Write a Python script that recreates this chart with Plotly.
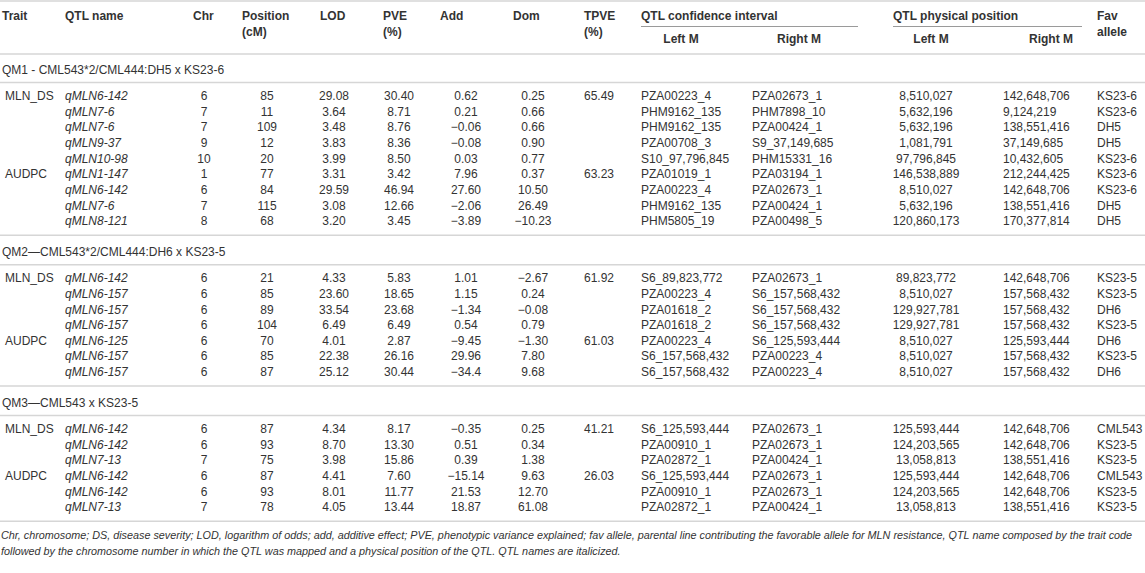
import plotly.graph_objects as go

# ---------------- table data ----------------
section_titles = [
    "QM1 - CML543*2/CML444:DH5 x KS23-6",
    "QM2\u2014CML543*2/CML444:DH6 x KS23-5",
    "QM3\u2014CML543 x KS23-5",
]
section_rows = [9, 7, 6]

trait = ["MLN_DS", "", "", "", "", "AUDPC", "", "", "",
         "MLN_DS", "", "", "", "AUDPC", "", "",
         "MLN_DS", "", "", "AUDPC", "", ""]
qtl_name = ["qMLN6-142", "qMLN7-6", "qMLN7-6", "qMLN9-37", "qMLN10-98",
            "qMLN1-147", "qMLN6-142", "qMLN7-6", "qMLN8-121",
            "qMLN6-142", "qMLN6-157", "qMLN6-157", "qMLN6-157",
            "qMLN6-125", "qMLN6-157", "qMLN6-157",
            "qMLN6-142", "qMLN6-142", "qMLN7-13",
            "qMLN6-142", "qMLN6-142", "qMLN7-13"]
chrom = [6, 7, 7, 9, 10, 1, 6, 7, 8,
         6, 6, 6, 6, 6, 6, 6,
         6, 6, 7, 6, 6, 7]
position_cm = [85, 11, 109, 12, 20, 77, 84, 115, 68,
               21, 85, 89, 104, 70, 85, 87,
               87, 93, 75, 87, 93, 78]
lod = ["29.08", "3.64", "3.48", "3.83", "3.99", "3.31", "29.59", "3.08", "3.20",
       "4.33", "23.60", "33.54", "6.49", "4.01", "22.38", "25.12",
       "4.34", "8.70", "3.98", "4.41", "8.01", "4.05"]
pve = ["30.40", "8.71", "8.76", "8.36", "8.50", "3.42", "46.94", "12.66", "3.45",
       "5.83", "18.65", "23.68", "6.49", "2.87", "26.16", "30.44",
       "8.17", "13.30", "15.86", "7.60", "11.77", "13.44"]
add = ["0.62", "0.21", "\u22120.06", "\u22120.08", "0.03", "7.96", "27.60", "\u22122.06", "\u22123.89",
       "1.01", "1.15", "\u22121.34", "0.54", "\u22129.45", "29.96", "\u221234.4",
       "\u22120.35", "0.51", "0.39", "\u221215.14", "21.53", "18.87"]
dom = ["0.25", "0.66", "0.66", "0.90", "0.77", "0.37", "10.50", "26.49", "\u221210.23",
       "\u22122.67", "0.24", "\u22120.08", "0.79", "\u22121.30", "7.80", "9.68",
       "0.25", "0.34", "1.38", "9.63", "12.70", "61.08"]
tpve = ["65.49", "", "", "", "", "63.23", "", "", "",
        "61.92", "", "", "", "61.03", "", "",
        "41.21", "", "", "26.03", "", ""]
ci_left = ["PZA00223_4", "PHM9162_135", "PHM9162_135", "PZA00708_3", "S10_97,796,845",
           "PZA01019_1", "PZA00223_4", "PHM9162_135", "PHM5805_19",
           "S6_89,823,772", "PZA00223_4", "PZA01618_2", "PZA01618_2",
           "PZA00223_4", "S6_157,568,432", "S6_157,568,432",
           "S6_125,593,444", "PZA00910_1", "PZA02872_1",
           "S6_125,593,444", "PZA00910_1", "PZA02872_1"]
ci_right = ["PZA02673_1", "PHM7898_10", "PZA00424_1", "S9_37,149,685", "PHM15331_16",
            "PZA03194_1", "PZA02673_1", "PZA00424_1", "PZA00498_5",
            "PZA02673_1", "S6_157,568,432", "S6_157,568,432", "S6_157,568,432",
            "S6_125,593,444", "PZA00223_4", "PZA00223_4",
            "PZA02673_1", "PZA02673_1", "PZA00424_1",
            "PZA02673_1", "PZA02673_1", "PZA00424_1"]
phys_left = ["8,510,027", "5,632,196", "5,632,196", "1,081,791", "97,796,845",
             "146,538,889", "8,510,027", "5,632,196", "120,860,173",
             "89,823,772", "8,510,027", "129,927,781", "129,927,781",
             "8,510,027", "8,510,027", "8,510,027",
             "125,593,444", "124,203,565", "13,058,813",
             "125,593,444", "124,203,565", "13,058,813"]
phys_right = ["142,648,706", "9,124,219", "138,551,416", "37,149,685", "10,432,605",
              "212,244,425", "142,648,706", "138,551,416", "170,377,814",
              "142,648,706", "157,568,432", "157,568,432", "157,568,432",
              "125,593,444", "157,568,432", "157,568,432",
              "142,648,706", "142,648,706", "138,551,416",
              "142,648,706", "142,648,706", "138,551,416"]
fav_allele = ["KS23-6", "KS23-6", "DH5", "DH5", "KS23-6", "KS23-6", "KS23-6", "DH5", "DH5",
              "KS23-5", "KS23-5", "DH6", "KS23-5", "DH6", "KS23-5", "DH6",
              "CML543", "KS23-5", "KS23-5", "CML543", "KS23-5", "KS23-5"]

footnote = [
    "Chr, chromosome; DS, disease severity; LOD, logarithm of odds; add, additive effect; "
    "PVE, phenotypic variance explained; fav allele, parental line contributing the favorable "
    "allele for MLN resistance, QTL name composed by the trait code",
    "followed by the chromosome number in which the QTL was mapped and a physical position "
    "of the QTL. QTL names are italicized.",
]

# ---------------- layout / style ----------------
W, H = 1145, 573
FONT = "Liberation Sans, Arial, sans-serif"
TXT = "#333333"
RULE = "#d6d6d6"
FS = 12
FS_NOTE = 10.8

columns = [
    (trait, 5, "left", ""),
    (qtl_name, 65, "left", "i"),
    (chrom, 204, "center", ""),
    (position_cm, 267, "center", ""),
    (lod, 334, "center", ""),
    (pve, 399, "center", ""),
    (add, 466, "center", ""),
    (dom, 533, "center", ""),
    (tpve, 584, "left", ""),
    (ci_left, 641, "left", ""),
    (ci_right, 752, "left", ""),
    (phys_left, 926, "center", ""),
    (phys_right, 1003, "left", ""),
    (fav_allele, 1097, "left", ""),
]

header = [  # text, x, y, align
    ("Trait", 2, 16.5, "left"), ("QTL name", 65, 16.5, "left"),
    ("Chr", 193, 16.5, "left"), ("Position", 242, 16.5, "left"),
    ("(cM)", 242, 33, "left"), ("LOD", 320, 16.5, "left"),
    ("PVE", 383, 16.5, "left"), ("(%)", 383, 33, "left"),
    ("Add", 440, 16.5, "left"), ("Dom", 513, 16.5, "left"),
    ("TPVE", 584, 16.5, "left"), ("(%)", 584, 33, "left"),
    ("QTL confidence interval", 641, 16.5, "left"),
    ("Left M", 681, 40, "center"), ("Right M", 799, 40, "center"),
    ("QTL physical position", 893, 16.5, "left"),
    ("Left M", 931, 40, "center"), ("Right M", 1051, 40, "center"),
    ("Fav", 1097, 16.5, "left"), ("allele", 1097, 33, "left"),
]

# vertical positions of rows, section titles and rules
ROW_H = 15.65
row_y, title_y = [], []
rules = [1, 54]
first = 97
for n in section_rows:
    title_y.append(first - 26)
    rules.append(first - 14.5)
    ys = [first + i * ROW_H for i in range(n)]
    row_y += ys
    rules.append(ys[-1] + 13)
    first = ys[-1] + 57
foot_y = [rules[-1] + 15, rules[-1] + 31]


def text_trace(x, y, text, align, style="", size=FS):
    pos = "middle right" if align == "left" else "middle center"
    if style:
        text = [f"<{style}>{t}</{style}>" if t != "" else "" for t in text]
    return go.Scatter(
        x=x, y=y, text=text, mode="text", textposition=pos,
        textfont=dict(family=FONT, size=size, color=TXT),
        hoverinfo="skip", showlegend=False, cliponaxis=False,
    )


fig = go.Figure()

for values, x, align, style in columns:
    fig.add_trace(text_trace([x] * len(values), row_y, [str(v) for v in values], align, style))

for text, x, y, align in header:
    fig.add_trace(text_trace([x], [y], [text], align, "b"))

fig.add_trace(text_trace([2] * len(section_titles), title_y, section_titles, "left"))
fig.add_trace(text_trace([1] * len(footnote), foot_y, footnote, "left", "i", FS_NOTE))

for y in rules:
    fig.add_shape(type="line", x0=0, x1=W, y0=y, y1=y, line=dict(color=RULE, width=1.5))
for x0, x1 in [(641, 858), (893, 1082)]:
    fig.add_shape(type="line", x0=x0, x1=x1, y0=26.5, y1=26.5, line=dict(color="#9a9a9a", width=1.2))

fig.update_layout(
    width=W, height=H,
    margin=dict(l=0, r=0, t=0, b=0),
    paper_bgcolor="white", plot_bgcolor="white",
    xaxis=dict(range=[0, W], visible=False, fixedrange=True),
    yaxis=dict(range=[H, 0], visible=False, fixedrange=True),
)

# the page's default 8px body margin would push the table off the window
fig.write_html("out.html", config={"displayModeBar": False},
               post_script="document.body.style.margin='0';")
